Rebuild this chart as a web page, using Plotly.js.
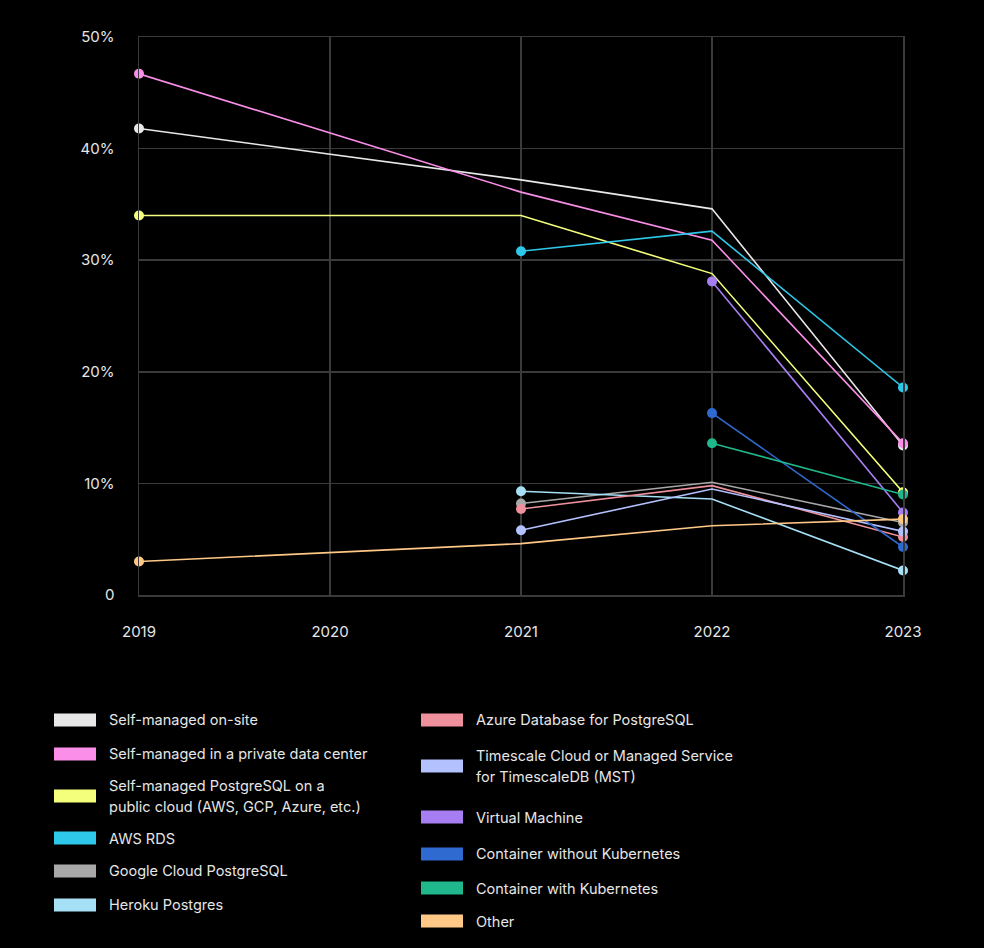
<!DOCTYPE html>
<html>
<head>
<meta charset="utf-8">
<script src="https://cdn.plot.ly/plotly-3.0.1.min.js"></script>
<style>
html,body{margin:0;padding:0;background:#000;}
#chart{width:984px;height:948px;}
</style>
</head>
<body>
<div id="chart"></div>
<script>
// ---- data ----
const years = [2019, 2020, 2021, 2022, 2023];
const seriesNames = [
  "Self-managed on-site",
  "Self-managed in a private data center",
  "Self-managed PostgreSQL on a|public cloud (AWS, GCP, Azure, etc.)",
  "AWS RDS",
  "Google Cloud PostgreSQL",
  "Heroku Postgres",
  "Azure Database for PostgreSQL",
  "Timescale Cloud or Managed Service|for TimescaleDB (MST)",
  "Virtual Machine",
  "Container without Kubernetes",
  "Container with Kubernetes",
  "Other"
];
const selfOnSite      = [41.8, null, 37.2, 34.6, 13.4];
const selfPrivateDC   = [46.7, null, 36.1, 31.8, 13.6];
const selfPublicCloud = [34.0, null, 34.0, 28.8, 9.2];
const awsRds          = [null, null, 30.8, 32.6, 18.6];
const googleCloud     = [null, null, 8.2, 10.1, 6.5];
const heroku          = [null, null, 9.3, 8.6, 2.2];
const azure           = [null, null, 7.7, 9.8, 5.2];
const timescale       = [null, null, 5.8, 9.5, 5.7];
const virtualMachine  = [null, null, null, 28.1, 7.4];
const containerNoK8s  = [null, null, null, 16.3, 4.3];
const containerK8s    = [null, null, null, 13.6, 9.0];
const other           = [3.0, null, 4.6, 6.2, 6.8];
const seriesValues = [selfOnSite, selfPrivateDC, selfPublicCloud, awsRds, googleCloud, heroku,
                      azure, timescale, virtualMachine, containerNoK8s, containerK8s, other];
const seriesColors = ["#e8e8e8", "#fb8ee8", "#f4ff7c", "#2ec8ea", "#a8a8a8", "#a6e0f6",
                      "#ef919c", "#b3c2ff", "#a77ef2", "#2f6ad0", "#1fb78b", "#ffc886"];
const yTickVals = [0, 10, 20, 30, 40, 50];
const yTickText = ["0", "10%", "20%", "30%", "40%", "50%"];

// ---- layout geometry ----
const W = 984, H = 948;
const mL = 139, mR = 81, mT = 37, mB = 353;
const plotH = H - mT - mB;
const toPaperY = py => (H - mB - py) / plotH;
const plotW = W - mL - mR;
const toPaperX = px => (px - mL) / plotW;

const traces = seriesNames.map((name, i) => {
  const vals = seriesValues[i];
  const idx = vals.map((v, k) => v === null ? -1 : k).filter(k => k >= 0);
  const first = idx[0], last = idx[idx.length - 1];
  return {
    type: "scatter",
    mode: "lines+markers",
    name: name.replace("|", " "),
    x: years,
    y: vals,
    connectgaps: true,
    cliponaxis: false,
    showlegend: false,
    hoverinfo: "skip",
    line: {color: seriesColors[i], width: 1.6},
    marker: {color: seriesColors[i], opacity: 1,
             size: vals.map((v, k) => (k === first || k === last) ? 10 : 0),
             line: {width: 0, color: seriesColors[i]}}
  };
});

// legend built from shapes + annotations
const shapes = [], annotations = [];
const leftCol = {sx: 54, tx: 107, rows: [720, 754, 796, 838, 871, 905]};
const rightCol = {sx: 421, tx: 474, rows: [720, 766, 817, 854, 888, 921]};
seriesNames.forEach((name, i) => {
  const col = i < 6 ? leftCol : rightCol;
  const cy = col.rows[i % 6];
  shapes.push({
    type: "rect", xref: "paper", yref: "paper",
    x0: toPaperX(col.sx), x1: toPaperX(col.sx + 42),
    y0: toPaperY(cy - 6.5), y1: toPaperY(cy + 6.5),
    fillcolor: seriesColors[i], line: {width: 0}
  });
  const lines = name.split("|");
  lines.forEach((ln, j) => {
    const ly = cy + (j - (lines.length - 1) / 2) * 21;
    annotations.push({
      xref: "paper", yref: "paper", x: toPaperX(col.tx), y: toPaperY(ly),
      xanchor: "left", yanchor: "middle", showarrow: false, text: ln,
      font: {family: "Inter, 'Noto Sans', sans-serif", size: 14.5, color: "#e6e6e6"}
    });
  });
});

const layout = {
  width: W, height: H,
  paper_bgcolor: "#000", plot_bgcolor: "#000",
  margin: {l: mL, r: mR, t: mT, b: mB},
  showlegend: false,
  font: {family: "Inter, 'Noto Sans', sans-serif", color: "#e6e6e6", size: 15},
  xaxis: {
    range: [2019, 2023], tickvals: years, ticktext: years.map(String),
    showgrid: true, gridcolor: "#3a3a3a", gridwidth: 1.5,
    showline: true, mirror: true, linecolor: "#3a3a3a", linewidth: 1.5,
    zeroline: false, ticks: "", ticklabelstandoff: 22,
    tickfont: {size: 15, color: "#e6e6e6"}, fixedrange: true
  },
  yaxis: {
    range: [0, 50], tickvals: yTickVals, ticktext: yTickText,
    showgrid: true, gridcolor: "#3a3a3a", gridwidth: 1.5,
    showline: true, mirror: true, linecolor: "#3a3a3a", linewidth: 1.5,
    zeroline: false, ticks: "", ticklabelstandoff: 20,
    tickfont: {size: 15, color: "#e6e6e6"}, fixedrange: true
  },
  shapes: shapes,
  annotations: annotations
};

Plotly.newPlot("chart", traces, layout, {displayModeBar: false, staticPlot: true});
</script>
</body>
</html>
